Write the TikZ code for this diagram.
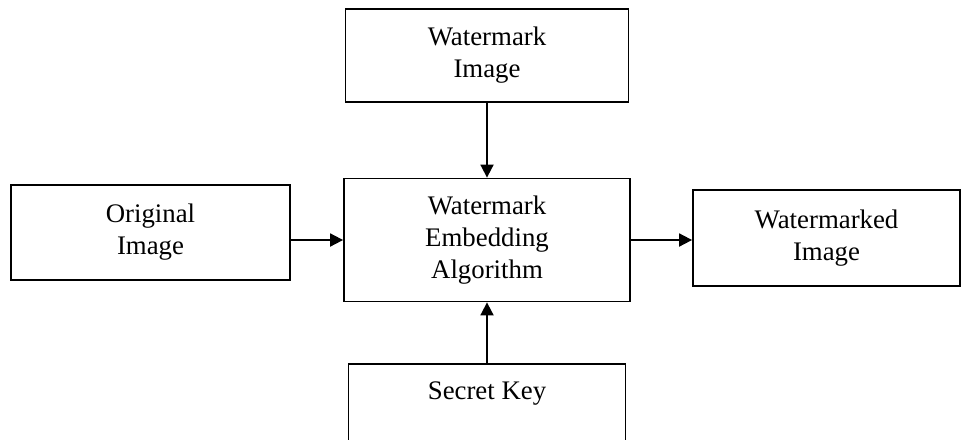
\documentclass[tikz,border=0pt]{standalone}
\usepackage{fontspec}
\setmainfont{Liberation Serif}
\usetikzlibrary{arrows.meta,positioning}

\begin{document}
\begin{tikzpicture}[x=1pt,y=1pt,on grid,line width=0.9pt,
    >={Triangle[length=6.5pt,width=6.5pt]}]
  \tikzstyle{blockbox}=[draw, rectangle, align=center, inner sep=0pt,
                        font=\fontsize{13.4}{16}\selectfont]

  \clip (0,0) rectangle (480.5,-219.5);
  \useasboundingbox (0,0) rectangle (480.5,-219.5);

  \node[blockbox, minimum width=143pt, minimum height=61.5pt] (embed) at (243.5,-120)
       {Watermark\\Embedding\\Algorithm};
  \node[blockbox, minimum width=141.5pt, minimum height=46.5pt] (wmimg)
       [above=92.25pt of embed] {Watermark\\Image};
  \node[blockbox, minimum width=139.5pt, minimum height=47.5pt] (orig)
       [above left=3.75pt and 168.25pt of embed] {Original\\Image};
  \node[blockbox, minimum width=133.5pt, minimum height=48pt] (wmked)
       [above right=1pt and 169.75pt of embed] {Watermarked\\Image};
  \node[blockbox, minimum width=138.5pt, text height=17.5pt, text depth=29pt] (key)
       [below=85.25pt of embed] {Secret Key};

  \draw[->] (wmimg) -- (embed);
  \draw[->] (key) -- (embed);
  \draw[->] (embed.west -| orig.east) -- (embed.west);
  \draw[->] (embed.east) -- (embed.east -| wmked.west);
\end{tikzpicture}
\end{document}
